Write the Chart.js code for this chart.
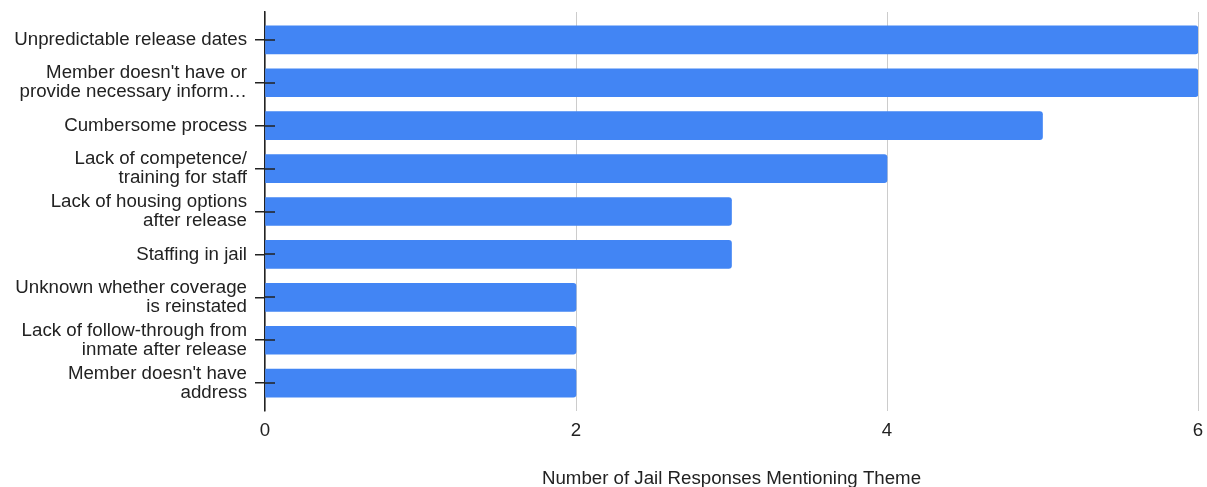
<!DOCTYPE html>
<html>
<head>
<meta charset="utf-8">
<script src="https://cdn.jsdelivr.net/npm/chart.js@4"></script>
<style>
  html, body { margin: 0; padding: 0; background: #fff; }
  #wrap { width: 1207px; height: 487px; }
</style>
</head>
<body>
<div id="wrap"><canvas id="chart"></canvas></div>
<script>
const themes = [
    ["Unpredictable release dates"],
    ["Member doesn't have or", "provide necessary inform\u2026"],
    ["Cumbersome process"],
    ["Lack of competence/", "training for staff"],
    ["Lack of housing options", "after release"],
    ["Staffing in jail"],
    ["Unknown whether coverage", "is reinstated"],
    ["Lack of follow-through from", "inmate after release"],
    ["Member doesn't have", "address"]
];
const responses = [6, 6, 5, 4, 3, 3, 2, 2, 2];
const xTicks = [0, 2, 4, 6];

const FONT = "'Liberation Sans', Arial, sans-serif";
const FSIZE = 18.7;

// small tick stubs on the plot side of the y axis
const innerTicks = {
    id: 'innerTicks',
    afterDraw(chart) {
        const ctx = chart.ctx;
        const y = chart.scales.y;
        const left = chart.chartArea.left;
        ctx.save();
        ctx.strokeStyle = '#222';
        ctx.lineWidth = 1.5;
        themes.forEach((t, i) => {
            const py = Math.round(y.getPixelForValue(i));
            ctx.beginPath();
            ctx.moveTo(left, py);
            ctx.lineTo(left + 10, py);
            ctx.stroke();
        });
        ctx.restore();
    }
};

new Chart(document.getElementById('chart'), {
    type: 'bar',
    data: {
        datasets: [{
            data: responses.map((v, i) => ({ x: v, y: i })),
            backgroundColor: '#4285F4',
            borderRadius: { topRight: 3, bottomRight: 3 },
            borderSkipped: 'left',
            barThickness: 28
        }]
    },
    options: {
        indexAxis: 'y',
        responsive: true,
        maintainAspectRatio: false,
        animation: false,
        layout: { autoPadding: false, padding: { top: 12, right: 9, bottom: 0, left: 0 } },
        plugins: {
            legend: { display: false },
            tooltip: { enabled: false }
        },
        scales: {
            x: {
                type: 'linear',
                min: 0,
                max: 6,
                afterBuildTicks: (scale) => { scale.ticks = xTicks.map(v => ({ value: v })); },
                afterFit: (scale) => { scale.height = 76; scale.paddingLeft = 0; scale.paddingRight = 0; },
                grid: { color: '#cccccc', lineWidth: 1, drawTicks: false },
                border: { display: false },
                ticks: { padding: 9, color: '#222', font: { family: FONT, size: FSIZE } },
                title: {
                    display: true,
                    text: 'Number of Jail Responses Mentioning Theme',
                    color: '#222',
                    font: { family: FONT, size: FSIZE },
                    padding: { top: 0, bottom: -3 }
                }
            },
            y: {
                type: 'linear',
                reverse: true,
                offset: false,
                min: -0.65,
                max: 8.65,
                afterBuildTicks: (scale) => { scale.ticks = themes.map((t, i) => ({ value: i })); },
                afterFit: (scale) => { scale.width = 265; scale.paddingTop = 0; scale.paddingBottom = 0; },
                grid: { offset: false, drawOnChartArea: false, drawTicks: true, tickLength: 10, color: '#222', lineWidth: 1.5 },
                border: { color: '#222', width: 1.5 },
                ticks: {
                    padding: 8,
                    color: '#222',
                    font: { family: FONT, size: FSIZE, lineHeight: 1.02 },
                    callback: (v) => themes[v]
                }
            }
        }
    },
    plugins: [innerTicks]
});
</script>
</body>
</html>
